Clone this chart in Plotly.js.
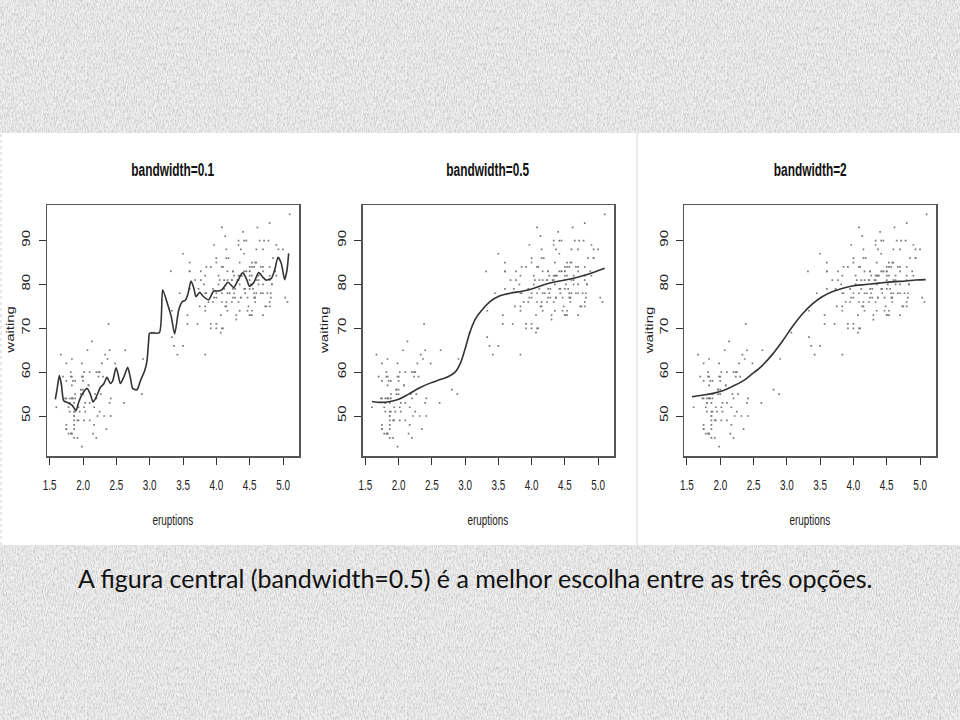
<!DOCTYPE html>
<html>
<head>
<meta charset="utf-8">
<script src="https://cdn.plot.ly/plotly-3.0.1.min.js"></script>
<style>
  html, body { margin:0; padding:0; width:960px; height:720px; overflow:hidden; background-color:#efefef; }
  #chart { width:960px; height:720px; }
</style>
</head>
<body>
<div id="chart"></div>
<script>
// ---- data (Old Faithful: eruptions vs waiting) ----
const eruptions = [
3.600,1.800,3.333,2.283,4.533,2.883,4.700,3.600,1.950,4.350,
1.833,3.917,4.200,1.750,4.700,2.167,1.750,4.800,1.600,4.250,
1.800,1.750,3.450,3.067,4.533,3.600,1.967,4.083,3.850,4.433,
4.300,4.467,3.367,4.033,3.833,2.017,1.867,4.833,1.833,4.783,
4.350,1.883,4.567,1.750,4.533,3.317,3.833,2.100,4.633,2.000,
4.800,4.716,1.833,4.833,1.733,4.883,3.717,1.667,4.567,4.317,
2.233,4.500,1.750,4.800,1.817,4.400,4.167,4.700,2.067,4.700,
4.033,1.967,4.500,4.000,1.983,5.067,2.017,4.567,3.883,3.600,
4.133,4.333,4.100,2.633,4.067,4.933,3.950,4.517,2.167,4.000,
2.200,4.333,1.867,4.817,1.833,4.300,4.667,3.750,1.867,4.900,
2.483,4.367,2.100,4.500,4.050,1.867,4.700,1.783,4.850,3.683,
4.733,2.300,4.900,4.417,1.700,4.633,2.317,4.600,1.817,4.417,
2.617,4.067,4.250,1.967,4.600,3.767,1.917,4.500,2.267,4.650,
1.867,4.167,2.800,4.333,1.833,4.383,1.883,4.933,2.033,3.733,
4.233,2.233,4.533,4.817,4.333,1.983,4.633,2.017,5.100,1.800,
5.033,4.000,2.400,4.600,3.567,4.000,4.500,4.083,1.800,3.967,
2.200,4.150,2.000,3.833,3.500,4.583,2.367,5.000,1.933,4.617,
1.917,2.083,4.583,3.333,4.167,4.333,4.500,2.417,4.000,4.167,
1.883,4.583,4.250,3.767,2.033,4.433,4.083,1.833,4.417,2.183,
4.800,1.833,4.800,4.100,3.966,4.233,3.500,4.366,2.250,4.667,
2.100,4.350,4.133,1.867,4.600,1.783,4.367,3.850,1.933,4.500,
2.383,4.700,1.867,3.833,3.417,4.233,2.400,4.800,2.000,4.150,
1.867,4.267,1.750,4.483,4.000,4.117,4.083,4.267,3.917,4.550,
4.083,2.417,4.183,2.217,4.450,1.883,1.850,4.283,3.950,2.333,
4.150,2.350,4.933,2.900,4.583,3.833,2.083,4.367,2.133,4.350,
2.200,4.450,3.567,4.500,4.150,3.817,3.917,4.450,2.000,4.283,
4.767,4.533,1.850,4.250,1.983,2.250,4.750,4.117,2.150,4.417,
1.817,4.467];
const waiting = [
79,54,74,62,85,55,88,85,51,85,
54,84,78,47,83,52,62,84,52,79,
51,47,78,69,74,83,55,76,78,79,
73,77,66,80,74,52,48,80,59,90,
80,58,84,58,73,83,64,53,82,59,
75,90,54,80,54,83,71,64,77,81,
59,84,48,82,60,92,78,78,65,73,
82,56,79,71,62,76,60,78,76,83,
75,82,70,65,73,88,76,80,48,86,
60,90,50,78,63,72,84,75,51,82,
62,88,49,83,81,47,84,52,86,81,
75,59,89,79,59,81,50,85,59,87,
53,69,77,56,88,81,45,82,55,90,
45,83,56,89,46,82,51,86,53,79,
81,60,82,77,76,59,80,49,96,53,
77,77,65,81,71,70,81,93,53,89,
45,86,58,78,66,76,63,88,52,93,
49,57,77,68,81,81,73,50,85,74,
55,77,83,83,51,78,84,46,83,55,
81,57,76,84,77,81,87,77,51,78,
60,82,91,53,78,46,77,84,49,83,
71,80,49,75,64,76,53,94,55,76,
50,82,54,75,78,79,78,78,70,79,
70,54,86,50,90,54,54,77,79,64,
75,47,86,63,85,82,57,82,67,74,
54,83,73,73,88,80,71,83,56,79,
78,84,58,83,43,60,75,81,46,90,
46,74];

// smoothed curves
const bw01_x = [1.585,1.615,1.645,1.675,1.71,1.775,1.835,1.895,1.935,1.975,2.06,2.11,2.15,2.195,2.26,2.31,2.36,2.41,2.445,2.495,2.525,2.56,2.61,2.67,2.71,2.745,2.81,2.86,2.925,2.96,2.985,3.0,3.145,3.195,3.275,3.325,3.375,3.435,3.485,3.535,3.575,3.62,3.66,3.695,3.75,3.81,3.885,3.96,4.035,4.085,4.125,4.175,4.26,4.325,4.395,4.46,4.495,4.56,4.635,4.695,4.745,4.825,4.875,4.925,4.975,5.025,5.06,5.085];
const bw01_y = [53.8,56.5,59.2,57.3,53.5,53.0,52.5,51.3,53.1,54.6,56.3,55.0,53.2,54.2,56.5,57.3,58.8,57.4,58.0,61.0,59.6,57.4,58.8,61.1,58.8,56.3,56.0,58.0,60.3,62.6,67.2,68.9,69.0,78.8,75.2,72.6,68.7,74.1,76.0,76.4,77.9,80.8,79.3,77.2,78.2,77.2,76.5,78.5,78.5,78.8,79.6,80.5,79.3,81.0,82.7,81.0,79.6,80.4,82.7,81.7,81.0,81.4,83.3,86.2,84.8,81.1,83.3,87.1];
const bw05_x = [1.6,1.725,1.875,2.0,2.15,2.325,2.475,2.625,2.75,2.85,2.925,3.0,3.075,3.15,3.25,3.375,3.525,3.675,3.875,4.025,4.175,4.325,4.5,4.675,4.825,4.975,5.1];
const bw05_y = [53.3,53.1,53.3,53.8,55.0,56.5,57.5,58.3,59.0,60.0,61.9,65.3,69.2,72.0,74.1,76.1,77.4,78.0,78.5,79.1,79.9,80.5,81.0,81.6,82.2,83.0,83.7];
const bw2_x = [1.575,1.725,1.875,2.025,2.175,2.33,2.48,2.63,2.78,2.93,3.08,3.23,3.38,3.53,3.68,3.83,3.98,4.18,4.38,4.585,4.785,4.935,5.085];
const bw2_y = [54.4,54.75,55.1,55.7,56.7,57.9,59.6,61.5,64.0,67.0,70.3,73.2,75.5,77.2,78.35,79.1,79.65,80.0,80.3,80.6,80.8,81.0,81.1];

const panelTitles = ['bandwidth=0.1','bandwidth=0.5','bandwidth=2'];
const xTickVals = [1.5,2.0,2.5,3.0,3.5,4.0,4.5,5.0];
const xTickText = ['1.5','2.0','2.5','3.0','3.5','4.0','4.5','5.0'];
const yTickVals = [50,60,70,80,90];
const yTickText = ['50','60','70','80','90'];
const xLabel = 'eruptions';
const yLabel = 'waiting';
const caption = 'A figura central (bandwidth=0.5) é a melhor escolha entre as três opções.';

// ---- background texture ----
const noise = "<svg xmlns='http://www.w3.org/2000/svg' width='320' height='320'><filter id='n'><feTurbulence type='fractalNoise' baseFrequency='1.1 0.3' numOctaves='2' stitchTiles='stitch'/><feColorMatrix values='0 0 0 0 0.5 0 0 0 0 0.5 0 0 0 0 0.5 0 0 0 1.7 -0.65'/></filter><rect width='320' height='320' filter='url(#n)'/></svg>";
document.body.style.backgroundImage = 'url("data:image/svg+xml;utf8,' + encodeURIComponent(noise) + '")';

// ---- layout helpers ----
const W = 960, H = 720;
const px = v => v / W;
const py = v => 1 - v / H;
const boxes = [[47, 299], [362.7, 614], [684.3, 936]];
const yDom = [py(456), py(205)];
const FONT = 'Liberation Sans, Arial, Helvetica, sans-serif';

const curvesX = [bw01_x, bw05_x, bw2_x];
const curvesY = [bw01_y, bw05_y, bw2_y];
const smooth = [0.6, 1, 1];

const data = [];
const layout = {
  width: W, height: H,
  margin: {l:0, r:0, t:0, b:0},
  paper_bgcolor: 'rgba(0,0,0,0)',
  plot_bgcolor: 'rgba(0,0,0,0)',
  showlegend: false,
  shapes: [
    {type:'rect', xref:'paper', yref:'paper', x0:0, x1:1, y0:py(545), y1:py(133), fillcolor:'#ffffff', line:{width:0}, layer:'below'},
    {type:'line', xref:'paper', yref:'paper', x0:px(637), x1:px(637), y0:py(545), y1:py(133), line:{color:'#d8d8d8', width:1}, layer:'below'},
    {type:'line', xref:'paper', yref:'paper', x0:px(1), x1:px(1), y0:py(545), y1:py(133), line:{color:'#cfcfcf', width:1, dash:'dot'}, layer:'below'}
  ],
  annotations: []
};

for (let i = 0; i < 3; i++) {
  const sx = i === 0 ? '' : String(i + 1);
  const xa = 'x' + sx, ya = 'y' + sx;
  data.push({
    type:'scatter', mode:'markers', x: eruptions, y: waiting, xaxis: xa, yaxis: ya,
    marker: {size: 1.7, color: '#7a7a7a', symbol: 'square', line:{width:0}},
    hoverinfo: 'skip'
  });
  data.push({
    type:'scatter', mode:'lines', x: curvesX[i], y: curvesY[i], xaxis: xa, yaxis: ya,
    line: {color: '#333333', width: 1.6, shape: 'spline', smoothing: smooth[i]},
    hoverinfo: 'skip'
  });
  layout['xaxis' + sx] = {
    domain: [px(boxes[i][0]), px(boxes[i][1])], anchor: ya,
    range: [1.46, 5.24], tickmode: 'array', tickvals: xTickVals, ticktext: xTickText,
    ticks: 'outside', ticklen: 7, tickwidth: 1, tickcolor: '#333',
    showline: true, mirror: true, linecolor: '#555', linewidth: 1.5,
    showgrid: false, zeroline: false, ticklabelstandoff: 8,
    tickfont: {family: FONT, size: 15, color: '#222'}, fixedrange: true
  };
  layout['yaxis' + sx] = {
    domain: yDom, anchor: xa,
    range: [40.88, 98.12], tickmode: 'array', tickvals: yTickVals, ticktext: yTickText,
    ticks: 'outside', ticklen: 7, tickwidth: 1, tickcolor: '#333', tickangle: -90,
    showline: true, mirror: true, linecolor: '#555', linewidth: 1.5,
    showgrid: false, zeroline: false, ticklabelstandoff: 1,
    tickfont: {family: FONT, size: 15, color: '#222'}, fixedrange: true
  };
  const cx = (boxes[i][0] + boxes[i][1]) / 2;
  layout.annotations.push({text: '<b>' + panelTitles[i] + '</b>', xref:'paper', yref:'paper', x: px(cx), y: py(170), xanchor:'center', yanchor:'middle', showarrow:false, font:{family: FONT, size: 18, color:'#111'}});
}
for (let i = 0; i < 3; i++) {
  const cx = (boxes[i][0] + boxes[i][1]) / 2;
  layout.annotations.push({text: xLabel, xref:'paper', yref:'paper', x: px(cx), y: py(519), xanchor:'center', yanchor:'middle', showarrow:false, font:{family: FONT, size: 15, color:'#222'}});
}
const yLabelX = [10.7, 325, 649.3];
for (let i = 0; i < 3; i++) {
  layout.annotations.push({text: yLabel, xref:'paper', yref:'paper', x: px(yLabelX[i]), y: py(330), xanchor:'center', yanchor:'middle', textangle: -90, showarrow:false, font:{family: FONT, size: 15, color:'#222'}});
}
layout.annotations.push({text: caption, xref:'paper', yref:'paper', x: px(475), y: py(578), xanchor:'center', yanchor:'middle', showarrow:false, font:{family: 'Lato, "Open Sans", sans-serif', size: 25, color:'#111'}});

// horizontal squeeze to mimic the narrow R device image
function squeeze(el, rotated, S) {
  const bb = el.getBBox();
  const t = el.getAttribute('transform') || '';
  if (!rotated) {
    const c = bb.x + bb.width / 2;
    el.setAttribute('transform', t + ' translate(' + c + ',0) scale(' + S + ',1) translate(' + (-c) + ',0)');
  } else {
    const c = bb.y + bb.height / 2;
    el.setAttribute('transform', t + ' translate(0,' + c + ') scale(1,' + S + ') translate(0,' + (-c) + ')');
  }
}

Plotly.newPlot('chart', data, layout, {staticPlot: true, displayModeBar: false}).then(gd => {
  gd.querySelectorAll('.xtick text, .x2tick text, .x3tick text').forEach(el => squeeze(el, false, 0.66));
  gd.querySelectorAll('.ytick text, .y2tick text, .y3tick text').forEach(el => squeeze(el, true, 0.78));
  const ann = gd.querySelectorAll('.annotation-text');
  ann.forEach((el, k) => {
    if (k < 6) squeeze(el, false, 0.66);
    else if (k < 9) squeeze(el, true, 0.72);
  });
});
</script>
</body>
</html>
